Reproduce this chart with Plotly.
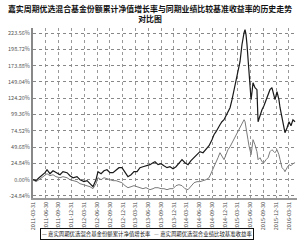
import plotly.graph_objects as go

title_text = "嘉实周期优选混合基金份额累计净值增长率与同期业绩比较基准收益率的历史走势<br>对比图"
fund_name = "嘉实周期优选混合基金份额累计净值增长率"
bench_name = "嘉实周期优选混合业绩比较基准收益率"

dates = [
    "2011-03-31", "2011-04-21", "2011-05-13", "2011-06-03", "2011-06-25", "2011-07-09",
    "2011-07-30", "2011-08-21", "2011-09-11", "2011-10-10", "2011-10-31", "2011-11-29",
    "2011-12-20", "2012-01-11", "2012-02-08", "2012-03-01", "2012-03-29", "2012-04-20",
    "2012-05-11", "2012-06-01", "2012-06-23", "2012-07-07", "2012-07-29", "2012-08-19",
    "2012-09-09", "2012-10-01", "2012-10-22", "2012-11-13", "2012-12-04", "2012-12-25",
    "2013-01-16", "2013-02-06", "2013-02-28", "2013-03-21", "2013-04-12", "2013-05-03",
    "2013-05-24", "2013-06-15", "2013-07-13", "2013-08-04", "2013-08-18", "2013-09-09",
    "2013-09-30", "2013-10-21", "2013-11-12", "2013-12-03", "2013-12-25", "2014-01-15",
    "2014-02-05", "2014-02-27", "2014-03-20", "2014-04-11", "2014-05-02", "2014-05-24",
    "2014-06-14", "2014-07-05", "2014-07-27", "2014-08-17", "2014-09-08", "2014-09-29",
    "2014-10-13", "2014-10-28", "2014-11-11", "2014-11-25", "2014-12-09", "2014-12-24",
    "2015-01-07", "2015-01-21", "2015-02-05", "2015-02-19", "2015-03-05", "2015-03-19",
    "2015-04-03", "2015-04-17", "2015-05-01", "2015-05-08", "2015-05-16", "2015-05-23",
    "2015-05-30", "2015-06-06", "2015-06-13", "2015-06-20", "2015-06-27", "2015-07-05",
    "2015-07-12", "2015-07-19", "2015-08-02", "2015-08-16", "2015-08-24", "2015-09-07",
    "2015-09-21", "2015-10-05", "2015-10-20", "2015-11-03", "2015-11-17", "2015-12-01",
    "2015-12-16", "2015-12-23", "2016-01-06", "2016-01-20", "2016-01-28", "2016-02-11",
    "2016-02-25", "2016-03-03", "2016-03-18", "2016-04-01", "2016-04-15", "2016-04-29",
    "2016-05-14",
]

fund = [
    0.0, -1.5, 3.0, 6.1, 10.7, 15.2,
    9.1, 13.7, 10.7, 7.6, 12.2, 10.7,
    6.1, 3.0, 4.6, 0.0, -3.0, -1.5,
    -6.1, -10.7, 0.0, 12.2, 9.1, 13.7,
    15.2, 10.7, 10.7, 15.2, 18.3, 18.3,
    12.2, 4.6, 7.6, 12.2, 12.2, 18.3,
    19.8, 21.3, 22.9, 25.9, 27.4, 22.9,
    24.4, 21.3, 18.3, 19.8, 16.8, 19.8,
    25.9, 30.5, 25.9, 22.9, 29.0, 33.5,
    38.1, 42.7, 41.1, 45.7, 51.8, 61.0,
    68.6, 73.2, 79.2, 83.8, 88.4, 91.4,
    97.5, 103.6, 109.7, 121.9, 137.2, 152.4,
    167.6, 179.8, 205.7, 217.9, 224.0, 228.6,
    221.0, 205.7, 182.9, 167.6, 137.2, 121.9,
    134.1, 147.8, 140.2, 137.2, 88.4, 99.1,
    106.7, 112.8, 121.9, 129.5, 137.2, 140.2,
    129.5, 121.9, 134.1, 121.9, 109.7, 94.5,
    79.2, 71.6, 79.2, 88.4, 82.3, 91.4,
    88.4,
]

bench = [
    0.0, -3.0, 0.0, 3.0, 6.1, 9.1,
    6.1, 7.6, 4.6, 3.0, 4.6, 3.0,
    0.0, -1.5, -3.0, -6.1, -7.6, -9.1,
    -10.7, -13.7, -6.1, 3.0, 0.0, 3.0,
    1.5, 0.0, -1.5, -1.5, -3.0, -4.6,
    -9.1, -12.2, -10.7, -9.1, -10.7, -12.2,
    -13.7, -12.2, -15.2, -13.7, -12.2, -12.2,
    -13.7, -13.7, -15.2, -13.7, -13.7, -9.1,
    -7.6, -9.1, -13.7, -15.2, -10.7, -4.6,
    -3.0, -3.0, -1.5, 0.0, 3.0, 12.2,
    19.8, 27.4, 33.5, 41.1, 35.1, 30.5,
    38.1, 45.7, 50.3, 56.4, 61.0, 68.6,
    73.2, 80.8, 86.9, 89.9, 91.4, 88.4,
    80.8, 71.6, 61.0, 51.8, 45.7, 38.1,
    48.8, 61.0, 53.3, 42.7, 30.5, 33.5,
    27.4, 25.9, 30.5, 33.5, 42.7, 45.7,
    42.7, 41.1, 45.7, 38.1, 30.5, 18.3,
    15.2, 12.2, 18.3, 22.9, 21.3, 24.4,
    25.9,
]

x_tick_dates = [
    "2011-03-31", "2011-06-30", "2011-09-30", "2011-12-31", "2012-03-31", "2012-06-30",
    "2012-09-30", "2012-12-31", "2013-03-31", "2013-06-30", "2013-09-30", "2013-12-31",
    "2014-03-31", "2014-06-30", "2014-09-30", "2014-12-31", "2015-03-31", "2015-06-30",
    "2015-09-30", "2015-12-31", "2016-03-31",
]
x_tick_text = list(x_tick_dates)

y_tick_vals = [-24.84, 0.0, 24.84, 49.68, 74.52, 99.36, 124.20, 149.04, 173.88, 198.72, 223.56]
y_tick_text = ["-24.84%", "0.00%", "24.84%", "49.68%", "74.52%", "99.36%",
               "124.20%", "149.04%", "173.88%", "198.72%", "223.56%"]

fig = go.Figure()
fig.add_trace(go.Scatter(x=dates, y=bench, mode="lines", name=bench_name,
                         line=dict(color="#7a7a7a", width=1), showlegend=False))
fig.add_trace(go.Scatter(x=dates, y=fund, mode="lines", name=fund_name,
                         line=dict(color="#1a1a1a", width=1.2), showlegend=False))

font_family = "Noto Sans CJK SC, sans-serif"

fig.update_layout(
    width=300, height=241,
    margin=dict(l=33, r=3, t=28, b=43),
    paper_bgcolor="white", plot_bgcolor="white",
    font=dict(family=font_family, size=6, color="#333"),
    title=dict(text="<b>" + title_text + "</b>", x=0.5, xanchor="center",
               y=0.95, yanchor="middle", font=dict(size=7.9, color="#111", family=font_family)),
    xaxis=dict(
        type="date", range=["2011-03-31", "2016-05-28"],
        tickvals=x_tick_dates, ticktext=x_tick_text, tickangle=-90,
        tickfont=dict(size=5.5, color="#444"),
        showgrid=True, gridcolor="#999", griddash="dot", gridwidth=1,
        showline=True, linecolor="#999", linewidth=1.5, ticks="",
        zeroline=False,
    ),
    yaxis=dict(
        range=[-27.9, 231.2],
        tickvals=y_tick_vals, ticktext=y_tick_text,
        tickfont=dict(size=5.5, color="#555"),
        showgrid=True, gridcolor="#888", griddash="dot", gridwidth=1,
        showline=True, linecolor="#888", linewidth=2, ticks="",
        zeroline=False,
    ),
    annotations=[dict(
        xref="paper", yref="paper", x=(40 - 33) / 264, y=-0.175,
        xanchor="left", yanchor="top", showarrow=False,
        text="<span style='color:#111'>—</span> " + fund_name +
             "   <span style='color:#7a7a7a'>—</span> " + bench_name,
        font=dict(size=5.4, color="#111", family=font_family),
        bordercolor="#111", borderwidth=1, borderpad=1, bgcolor="white",
    )],
)

fig.write_html("out.html")
